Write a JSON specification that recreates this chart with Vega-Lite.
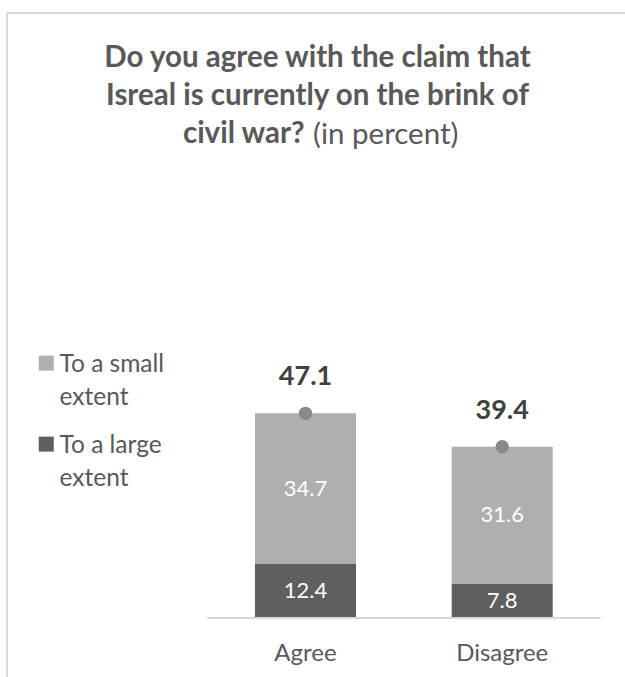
{
  "$schema": "https://vega.github.io/schema/vega-lite/v6.json",
  "width": 623,
  "height": 668,
  "autosize": {"type": "none"},
  "padding": {"left": 7, "top": 13, "right": -5, "bottom": -4},
  "background": "white",
  "title": {
    "text": ["Do you agree with the claim that", "Isreal is currently on the brink of", "civil war?\u2002\u2002\u2002\u2002\u2002\u2002\u2002\u2002\u2002\u2002\u200b"],
    "subtitle": "\u200b\u2002\u2002\u2002\u2002\u2002\u2002\u2002\u2002\u2002\u2009(in percent)",
    "anchor": "middle",
    "frame": "group",
    "orient": "top",
    "offset": -138,
    "dx": -1,
    "font": "Lato",
    "fontSize": 29.5,
    "fontWeight": "bold",
    "color": "#595959",
    "lineHeight": 38,
    "subtitleFont": "Lato",
    "subtitleFontSize": 29.5,
    "subtitleFontWeight": "normal",
    "subtitleColor": "#595959",
    "subtitlePadding": -28.5
  },
  "datasets": {
    "segments": [
      {"answer": "Agree", "extent": "To a large extent", "value": 12.4},
      {"answer": "Agree", "extent": "To a small extent", "value": 34.7},
      {"answer": "Disagree", "extent": "To a large extent", "value": 7.8},
      {"answer": "Disagree", "extent": "To a small extent", "value": 31.6}
    ],
    "totals": [
      {"answer": "Agree", "total": 47.1},
      {"answer": "Disagree", "total": 39.4}
    ],
    "axisline": [{"from": "Agree", "to": "Disagree"}],
    "frame": [{"edge": "frame"}]
  },
  "layer": [
    {
      "data": {"name": "frame"},
      "mark": {"type": "rule", "color": "#D9D9D9", "strokeWidth": 2},
      "encoding": {
        "x": {"datum": 0, "type": "quantitative", "scale": {"domain": [0, 1]}, "axis": null}
      }
    },
    {
      "layer": [
        {
          "data": {"name": "segments"},
          "transform": [
            {"stack": "value", "groupby": ["answer"], "sort": [{"field": "extent", "order": "ascending"}], "as": ["v0", "v1"]}
          ],
          "mark": {"type": "bar"},
          "encoding": {
            "x": {
              "field": "answer", "type": "nominal", "title": null, "sort": ["Agree", "Disagree"],
              "scale": {"paddingInner": 0.4865, "paddingOuter": 0.8269, "align": 0.7624},
              "axis": {"domain": false, "ticks": false, "grid": false, "labelAngle": 0, "labelFont": "Lato", "labelFontSize": 24, "labelColor": "#595959", "labelPadding": 23, "offset": -63}
            },
            "y": {"field": "v0", "type": "quantitative", "scale": {"domain": [-14.5, 139.24], "nice": false, "zero": false}, "axis": null},
            "y2": {"field": "v1"},
            "color": {
              "field": "extent", "type": "nominal",
              "scale": {"domain": ["To a small extent", "To a large extent"], "range": ["#AFAFAF", "#5F5F5F"]},
              "legend": {
                "title": null, "orient": "none", "legendX": 27, "legendY": 346.5,
                "symbolType": "M-1,-2.15H1V-0.15H-1Z", "symbolSize": 225, "symbolStrokeWidth": 0,
                "labelFont": "Lato", "labelFontSize": 24.5, "labelColor": "#595959",
                "labelBaseline": "alphabetic", "labelOffset": 1, "rowPadding": 23,
                "labelExpr": "datum.label == 'To a small extent' ? ['To a small', 'extent'] : ['To a large', 'extent']"
              }
            }
          }
        },
        {
          "data": {"name": "segments"},
          "transform": [
            {"stack": "value", "groupby": ["answer"], "sort": [{"field": "extent", "order": "ascending"}], "as": ["v0", "v1"]},
            {"fold": ["v0", "v1"], "as": ["edge", "pos"]}
          ],
          "mark": {"type": "text", "color": "white", "font": "Lato", "fontSize": 22, "baseline": "middle"},
          "encoding": {
            "x": {"field": "answer", "type": "nominal", "title": null},
            "y": {"aggregate": "mean", "field": "pos", "type": "quantitative", "axis": null},
            "text": {"field": "value", "type": "quantitative", "format": ".1f"},
            "detail": {"field": "extent"}
          }
        },
        {
          "data": {"name": "axisline"},
          "mark": {"type": "rule", "color": "#D9D9D9", "strokeWidth": 2},
          "encoding": {
            "x": {"field": "from", "type": "nominal", "bandPosition": -0.474, "title": null},
            "x2": {"field": "to", "bandPosition": 1.474},
            "y": {"datum": 0, "axis": null}
          }
        },
        {
          "data": {"name": "totals"},
          "mark": {"type": "point", "filled": true, "color": "#898989", "opacity": 1, "size": 180},
          "encoding": {
            "x": {"field": "answer", "type": "nominal", "title": null},
            "y": {"field": "total", "type": "quantitative", "axis": null}
          }
        },
        {
          "data": {"name": "totals"},
          "mark": {"type": "text", "font": "Lato", "fontSize": 27, "fontWeight": "bold", "color": "#404040", "baseline": "middle", "dy": -36},
          "encoding": {
            "x": {"field": "answer", "type": "nominal", "title": null},
            "y": {"field": "total", "type": "quantitative", "axis": null},
            "text": {"field": "total", "type": "quantitative", "format": ".1f"}
          }
        },
        {
          "data": {"name": "frame"},
          "mark": {"type": "rule", "color": "#D9D9D9", "strokeWidth": 2},
          "encoding": {"y": {"datum": 139.24, "axis": null}}
        }
      ]
    }
  ],
  "resolve": {"scale": {"x": "independent"}},
  "config": {"view": {"stroke": null}, "axis": {"grid": false}, "style": {"guide-label": {"lineHeight": 33}}}
}
